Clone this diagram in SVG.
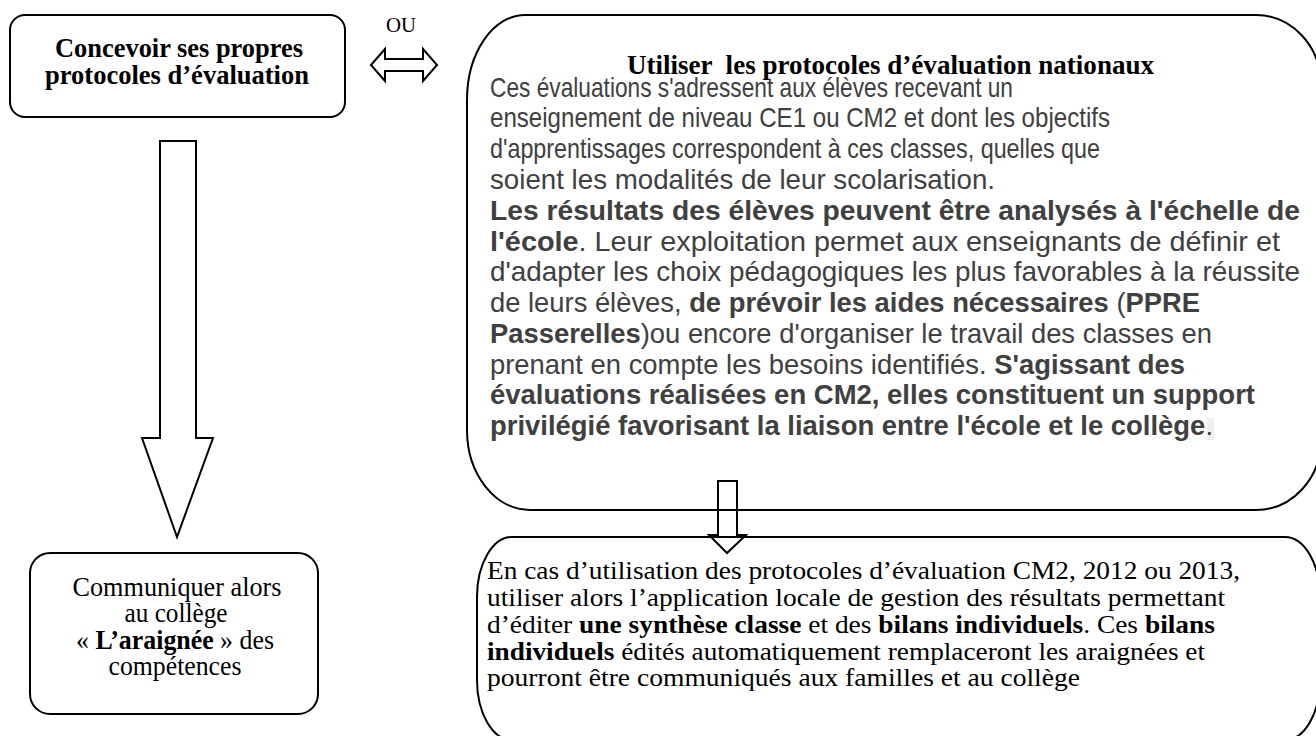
<svg xmlns="http://www.w3.org/2000/svg" width="1316" height="736" viewBox="0 0 1316 736">
<style>
.box{fill:none;stroke:#000;stroke-width:2}
.arr{fill:#fff;stroke:#000;stroke-width:2;stroke-linejoin:miter}
.tb{font-family:"Liberation Serif","Times New Roman",serif;font-weight:bold;fill:#000}
.tr{font-family:"Liberation Serif","Times New Roman",serif;fill:#000}
.body{font-family:"Liberation Sans",Arial,sans-serif;font-size:28px;fill:#404040}
.b{font-weight:bold}
</style>
<rect width="1316" height="736" fill="#fff"/>
<g id="connectors">
  <path class="arr" d="M160,141 H196 V438 H213 L177,537 L142,438 H160 Z"/>
  <path class="arr" d="M371,65 L385,49 V59 H423 V49 L437,65 L423,81 V71 H385 V81 Z"/>
</g>
<g id="node-concevoir">
  <rect class="box" x="10" y="15" width="335" height="102" rx="15" ry="15"/>
  <text class="tb" font-size="28" x="179" y="57" text-anchor="middle" textLength="248" lengthAdjust="spacingAndGlyphs">Concevoir ses propres</text>
  <text class="tb" font-size="28" x="177" y="84" text-anchor="middle" textLength="264" lengthAdjust="spacingAndGlyphs">protocoles d’évaluation</text>
</g>
<g id="label-ou">
  <text class="tr" font-size="21" x="401" y="32" text-anchor="middle" textLength="30" lengthAdjust="spacingAndGlyphs">OU</text>
</g>
<g id="node-communiquer">
  <rect class="box" x="30" y="553" width="288" height="161" rx="20" ry="20"/>
  <text class="tr" font-size="27" x="177" y="596" text-anchor="middle" textLength="209" lengthAdjust="spacingAndGlyphs">Communiquer alors</text>
  <text class="tr" font-size="27" x="176" y="622" text-anchor="middle" textLength="103" lengthAdjust="spacingAndGlyphs">au collège</text>
  <text class="tr" font-size="27" x="175" y="649" text-anchor="middle" textLength="198" lengthAdjust="spacingAndGlyphs">« <tspan class="b">L’araignée</tspan> » des</text>
  <text class="tr" font-size="27" x="175" y="675" text-anchor="middle" textLength="133" lengthAdjust="spacingAndGlyphs">compétences</text>
</g>
<g id="node-nationaux">
  <path class="box" d="M525,15 H1256 A65 70 0 0 1 1321 85 V440 A65 70 0 0 1 1256 510 H530 A63 80 0 0 1 467 430 V100 A58 85 0 0 1 525 15 Z"/>
  <text class="tb" font-size="27" x="627" y="74" textLength="527" lengthAdjust="spacingAndGlyphs" xml:space="preserve">Utiliser  les protocoles d’évaluation nationaux</text>
  <rect x="1207" y="418" width="7" height="22" fill="#efefef"/>
  <g class="body">
    <text x="490" y="97" textLength="523" lengthAdjust="spacingAndGlyphs">Ces évaluations s'adressent aux élèves recevant un</text>
    <text x="490" y="127" textLength="620" lengthAdjust="spacingAndGlyphs">enseignement de niveau CE1 ou CM2 et dont les objectifs</text>
    <text x="490" y="158" textLength="610" lengthAdjust="spacingAndGlyphs">d'apprentissages correspondent à ces classes, quelles que</text>
    <text x="490" y="189" textLength="505" lengthAdjust="spacingAndGlyphs">soient les modalités de leur scolarisation.</text>
    <text x="490" y="220" textLength="810" lengthAdjust="spacingAndGlyphs"><tspan class="b">Les résultats des élèves peuvent être analysés à l'échelle de</tspan></text>
    <text x="490" y="251" textLength="790" lengthAdjust="spacingAndGlyphs"><tspan class="b">l'école</tspan>. Leur exploitation permet aux enseignants de définir et</text>
    <text x="490" y="281" textLength="810" lengthAdjust="spacingAndGlyphs">d'adapter les choix pédagogiques les plus favorables à la réussite</text>
    <text x="490" y="312" textLength="710" lengthAdjust="spacingAndGlyphs">de leurs élèves, <tspan class="b">de prévoir les aides nécessaires</tspan> (<tspan class="b">PPRE</tspan></text>
    <text x="490" y="343" textLength="722" lengthAdjust="spacingAndGlyphs"><tspan class="b">Passerelles</tspan>)ou encore d'organiser le travail des classes en</text>
    <text x="490" y="374" textLength="695" lengthAdjust="spacingAndGlyphs">prenant en compte les besoins identifiés. <tspan class="b">S'agissant des</tspan></text>
    <text x="490" y="404" textLength="765" lengthAdjust="spacingAndGlyphs"><tspan class="b">évaluations réalisées en CM2, elles constituent un support</tspan></text>
    <text x="490" y="435" textLength="723" lengthAdjust="spacingAndGlyphs"><tspan class="b">privilégié favorisant la liaison entre l'école et le collège</tspan>.</text>
  </g>
</g>
<g id="node-bilans">
  <path class="box" d="M512,537 H1285 A35 60 0 0 1 1320 597 V680 A35 60 0 0 1 1285 740 H512 A35 60 0 0 1 477 680 V597 A35 60 0 0 1 512 537 Z"/>
  <g class="tr" font-size="26">
    <text x="487" y="579" textLength="753" lengthAdjust="spacingAndGlyphs">En cas d’utilisation des protocoles d’évaluation CM2, 2012 ou 2013,</text>
    <text x="487" y="606" textLength="738" lengthAdjust="spacingAndGlyphs">utiliser alors l’application locale de gestion des résultats permettant</text>
    <text x="487" y="633" textLength="728" lengthAdjust="spacingAndGlyphs">d’éditer <tspan class="b">une synthèse classe</tspan> et des <tspan class="b">bilans individuels</tspan>. Ces <tspan class="b">bilans</tspan></text>
    <text x="487" y="660" textLength="718" lengthAdjust="spacingAndGlyphs"><tspan class="b">individuels</tspan> édités automatiquement remplaceront les araignées et</text>
    <text x="487" y="686" textLength="593" lengthAdjust="spacingAndGlyphs">pourront être communiqués aux familles et au collège</text>
  </g>
</g>
<g id="connector-small">
  <path d="M718,481 H737 V535 H746 L727,553 L709,535 H718 Z" fill="none" stroke="#000" stroke-width="2"/>
</g>
</svg>
